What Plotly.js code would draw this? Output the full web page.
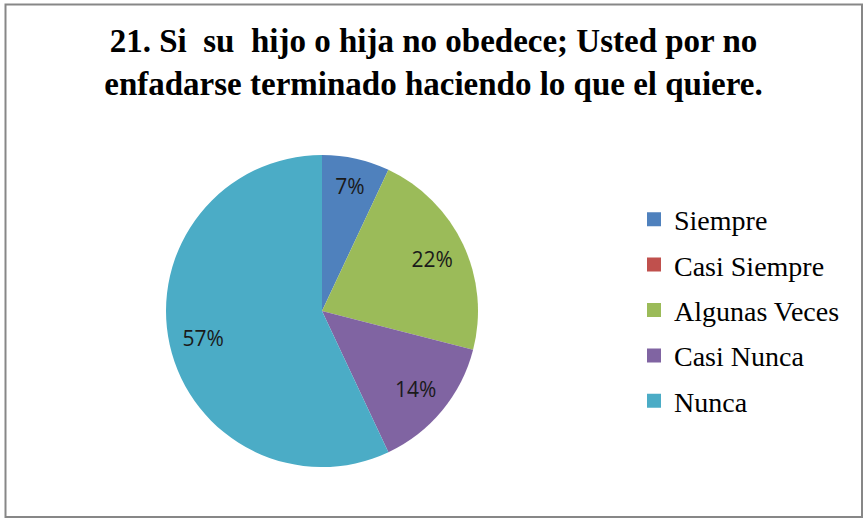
<!DOCTYPE html>
<html>
<head>
<meta charset="utf-8">
<script src="https://cdn.plot.ly/plotly-3.0.1.min.js"></script>
<style>
html,body{margin:0;padding:0;background:#fff;}
#chart{width:867px;height:518px;}
</style>
</head>
<body>
<div id="chart"></div>
<script>
const categories = ["Siempre", "Casi Siempre", "Algunas Veces", "Casi Nunca", "Nunca"];
const percents = [7, 0, 22, 14, 57];
const colors = ["#4F81BD", "#C0504D", "#9BBB59", "#8064A2", "#4BACC6"];
const titleText = "21. Si  su  hijo o hija no obedece; Usted por no<br>enfadarse terminado haciendo lo que el quiere.";

const W = 867, H = 518;
const pieDomain = {x: [166 / W, 478 / W], y: [1 - 467 / H, 1 - 155 / H]};

// the pie itself
const pie = {
  type: "pie",
  labels: categories,
  values: percents,
  marker: {colors: colors, line: {color: "#ffffff", width: 0}},
  sort: false,
  direction: "clockwise",
  rotation: 0,
  textinfo: "none",
  hoverinfo: "label+percent",
  showlegend: false,
  domain: pieDomain
};

// transparent ring carrying the percentage labels (puts them near the rim, as in the reference)
const labelRing = {
  type: "pie",
  labels: categories,
  values: percents,
  marker: {colors: categories.map(() => "rgba(0,0,0,0)"), line: {width: 0}},
  sort: false,
  direction: "clockwise",
  rotation: 0,
  hole: 0.56,
  texttemplate: percents.map(v => v > 0 ? "%{percent:.0%}" : ""),
  textposition: "inside",
  insidetextorientation: "horizontal",
  textfont: {family: "Open Sans, Liberation Sans, sans-serif", size: 21, color: "#1a1a1a"},
  hoverinfo: "skip",
  showlegend: false,
  domain: pieDomain
};

// legend entries (one per category)
const legendEntries = categories.map((c, i) => ({
  type: "scatter",
  mode: "markers",
  x: [null], y: [null],
  name: c,
  legendgroup: c,
  marker: {symbol: "square", size: 14, color: colors[i]},
  showlegend: true,
  hoverinfo: "skip"
}));

const layout = {
  width: W, height: H,
  margin: {l: 0, r: 0, t: 0, b: 0},
  paper_bgcolor: "#ffffff",
  plot_bgcolor: "rgba(0,0,0,0)",
  xaxis: {visible: false},
  yaxis: {visible: false},
  title: {
    text: titleText,
    font: {family: "Liberation Serif, Times New Roman, serif", size: 33, color: "#000000", weight: "bold"},
    x: 0.5, xanchor: "center",
    y: 1 - 52 / H, yanchor: "middle", yref: "container"
  },
  showlegend: true,
  legend: {
    x: 634 / W, xanchor: "left",
    y: 1 - 310 / H, yanchor: "middle",
    traceorder: "grouped",
    tracegroupgap: 6,
    itemsizing: "trace",
    font: {family: "Liberation Serif, Times New Roman, serif", size: 28, color: "#000000"},
    bgcolor: "rgba(0,0,0,0)"
  },
  shapes: [{
    type: "rect", xref: "paper", yref: "paper",
    x0: 5.5 / W, x1: 862 / W, y0: 1 - 517 / H, y1: 1 - 4.5 / H,
    line: {color: "#878787", width: 2}, fillcolor: "rgba(0,0,0,0)"
  }]
};

Plotly.newPlot("chart", [pie, labelRing, ...legendEntries], layout, {displayModeBar: false, staticPlot: true});
</script>
</body>
</html>
